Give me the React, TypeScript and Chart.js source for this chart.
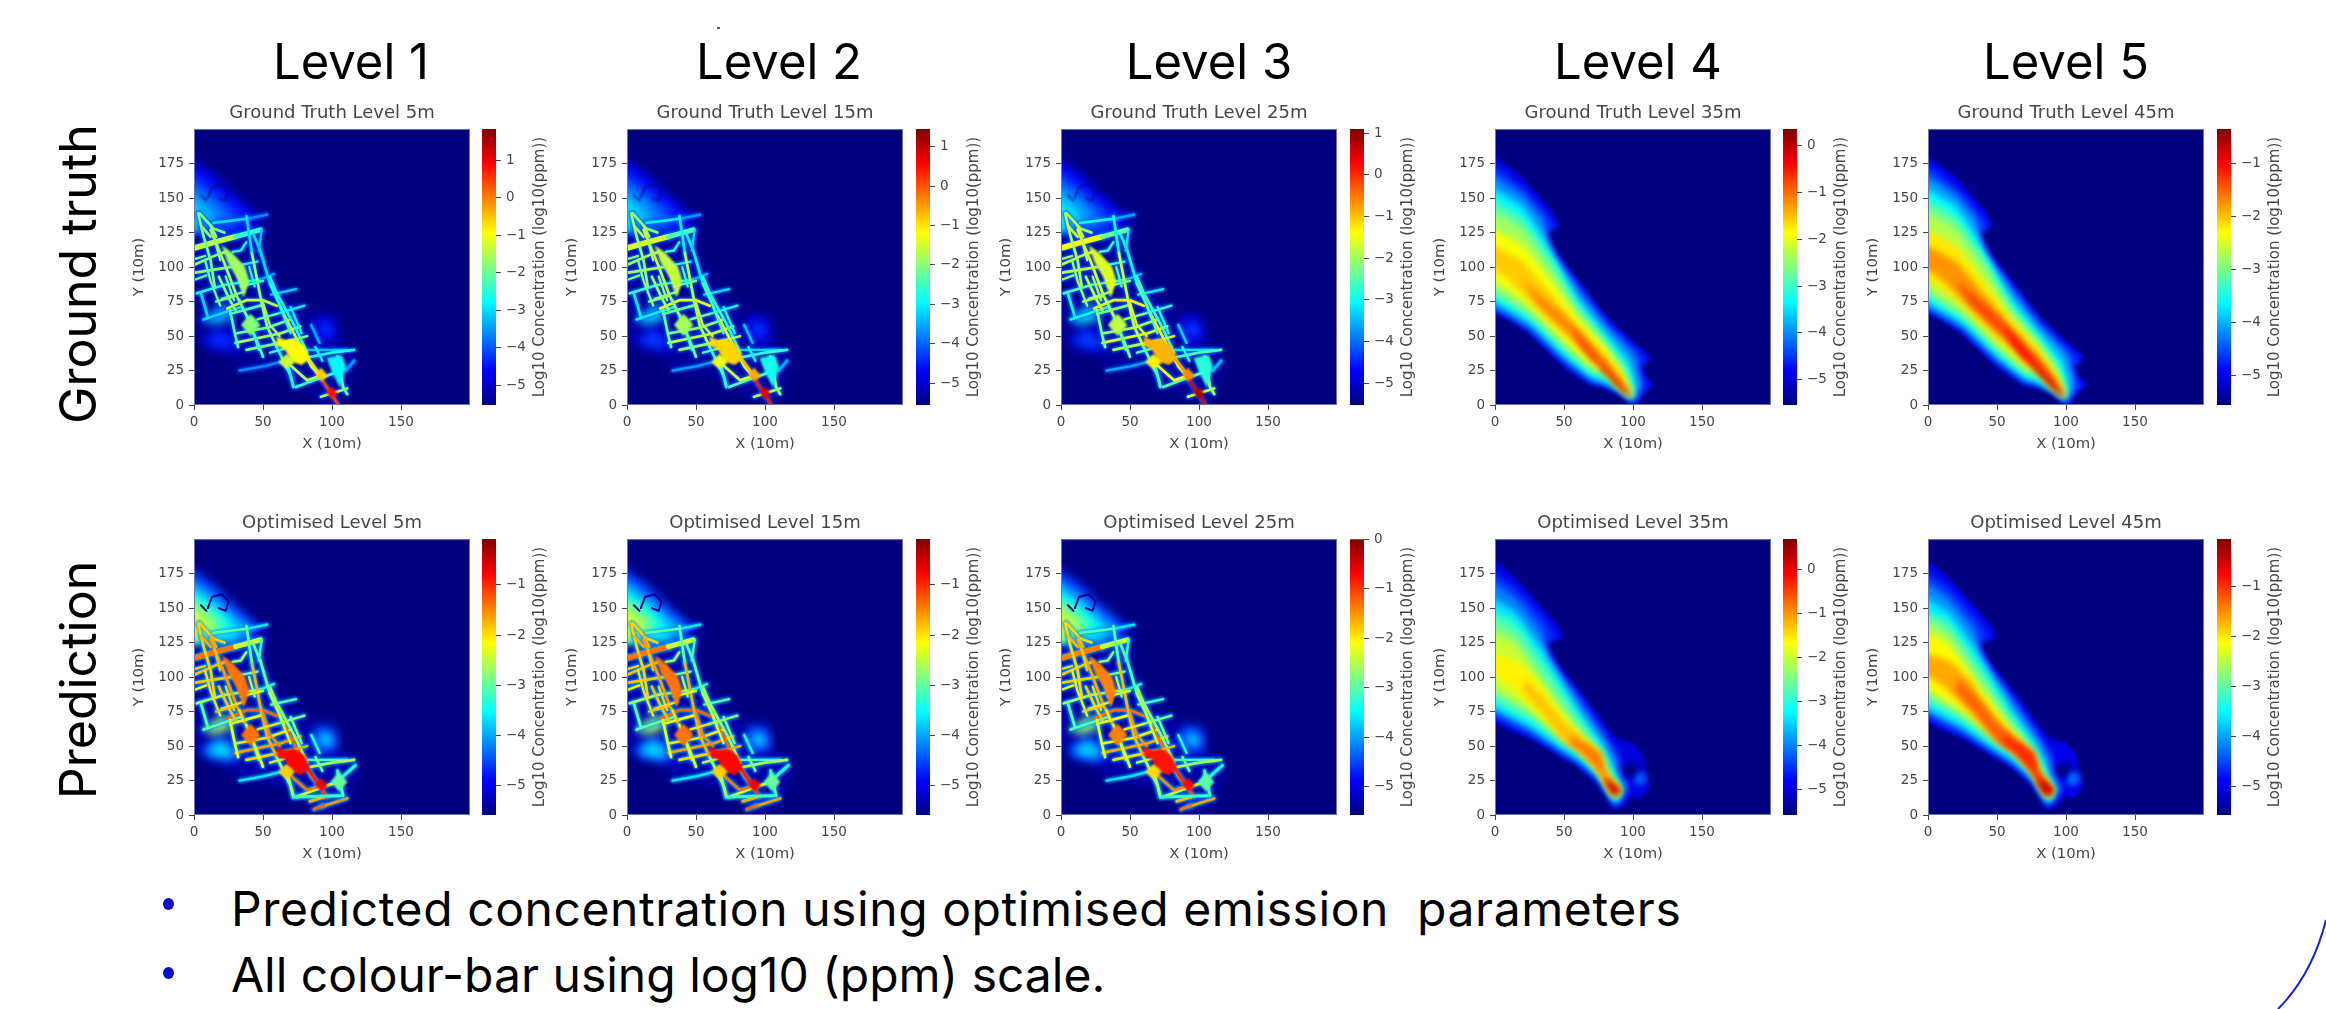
import React, { useEffect, useRef } from "react";
import {
  Chart, ScatterController, BarController, LineElement, PointElement, BarElement,
  LinearScale, CategoryScale, Title, Filler,
} from "chart.js";

/* ---------- text ---------- */
const levelNames = ["Level 1", "Level 2", "Level 3", "Level 4", "Level 5"];
const gtTitles = ["Ground Truth Level 5m", "Ground Truth Level 15m", "Ground Truth Level 25m", "Ground Truth Level 35m", "Ground Truth Level 45m"];
const predTitles = ["Optimised Level 5m", "Optimised Level 15m", "Optimised Level 25m", "Optimised Level 35m", "Optimised Level 45m"];
const rowNames = ["Ground truth", "Prediction"];
const bullets = ["Predicted concentration using optimised emission  parameters", "All colour-bar using log10 (ppm) scale."];
const xAxisLabel = "X (10m)";
const yAxisLabel = "Y (10m)";
const barLabel = "Log10 Concentration (log10(ppm))";
const xTickValues = [0, 50, 100, 150];
const yTickValues = [0, 25, 50, 75, 100, 125, 150, 175];

/* ---------- colour-bar ranges, log10(ppm) ---------- */
const gtRanges = [[-5.53, 1.83], [-5.56, 1.45], [-5.53, 1.1], [-5.55, 0.36], [-5.55, -0.36]];
const predRanges = [[-5.58, -0.09], [-5.58, -0.09], [-5.57, 0.0], [-5.59, 0.68], [-5.57, -0.05]];
const gtBarTicks = [[-5, -4, -3, -2, -1, 0, 1], [-5, -4, -3, -2, -1, 0, 1], [-5, -4, -3, -2, -1, 0, 1], [-5, -4, -3, -2, -1, 0], [-5, -4, -3, -2, -1]];
const predBarTicks = [[-5, -4, -3, -2, -1], [-5, -4, -3, -2, -1], [-5, -4, -3, -2, -1, 0], [-5, -4, -3, -2, -1, 0], [-5, -4, -3, -2, -1]];

/* ---------- upper-level plumes: contours, x,y,x,y… ---------- */
const gtPlumeContours = [
  [0,185, 20,165, 40,143, 47,130, 38,125, 46,110, 60,91, 80,65, 100,46, 113,35, 107,28, 110,20, 115,15, 108,8, 103,1, 98,1, 90,8, 80,13, 70,14, 50,28, 25,52, 10,62, 0,68],
  [0,178, 20,158, 38,138, 43,129, 36,122, 44,106, 60,88, 80,62, 100,42, 110,33, 104,27, 107,19, 111,15, 105,7, 101,2, 99,2, 90,9, 80,14, 70,16, 50,30, 25,54, 10,64, 0,71],
  [0,170, 20,152, 35,134, 40,112, 60,84, 80,58, 100,38, 104,25, 106,14, 100,3, 92,9, 80,15, 70,18, 50,33, 25,56, 0,74],
  [0,160, 20,144, 35,122, 60,78, 80,53, 97,32, 102,15, 100,4, 92,10, 80,17, 70,20, 50,36, 25,60, 0,78],
  [0,152, 20,136, 40,108, 60,73, 80,48, 95,28, 100,12, 100,4, 92,10, 80,19, 70,23, 50,39, 25,63, 0,82],
  [0,143, 20,128, 40,100, 60,68, 80,45, 93,26, 99,10, 99,5, 90,12, 80,22, 70,26, 50,43, 25,67, 0,87],
  [0,130, 20,116, 40,91, 60,63, 80,41, 92,23, 99,8, 90,14, 80,25, 70,29, 50,47, 25,72, 0,94],
  [0,118, 20,104, 40,81, 60,57, 80,36, 92,20, 99,6, 90,16, 80,28, 70,35, 50,52, 30,71, 10,91, 0,102],
  [20,90, 35,78, 50,65, 70,43, 85,26, 95,12, 99,5, 92,13, 82,24, 70,34, 55,50, 42,62, 30,74],
  [55,58, 70,40, 80,29, 90,17, 98,6, 90,14, 80,24, 70,33, 60,46],
  [78,27, 88,18, 94,11, 99,5, 93,9, 85,18, 76,27],
];
const gtL4Levels = [-5, -4.5, -4, -3.4, -2.9, -2.4, -1.9, -1.55, -1.15, -0.75, -0.05];
const gtL5Levels = [-5, -4.6, -4.1, -3.6, -3.1, -2.7, -2.2, -1.75, -1.35, -1.05, -0.55];

const predPlumeContours = [
  [0,190, 15,172, 35,150, 47,136, 49,128, 38,124, 46,110, 60,92, 78,68, 88,56, 100,52, 108,42, 110,28, 112,20, 105,12, 100,14, 95,8, 88,4, 85,6, 75,22, 60,35, 50,41, 25,56, 10,62, 0,70],
  [90,34, 100,38, 106,35, 102,28, 94,27],
  [100,22, 108,22, 110,28, 104,32],
  [0,180, 15,165, 35,143, 44,130, 35,122, 44,106, 60,88, 78,62, 88,48, 92,38, 90,32, 98,18, 92,12, 87,6, 75,24, 60,37, 50,43, 25,58, 10,65, 0,74],
  [0,172, 15,157, 33,135, 40,112, 60,84, 78,58, 87,42, 89,30, 95,20, 90,12, 87,7, 75,26, 60,39, 50,45, 25,61, 0,77],
  [0,160, 15,147, 35,120, 60,78, 78,52, 85,38, 88,28, 93,18, 88,9, 75,28, 60,41, 50,47, 25,64, 0,80],
  [0,150, 15,140, 35,112, 60,73, 78,47, 84,35, 87,27, 92,18, 88,10, 75,30, 60,44, 50,50, 25,68, 0,84],
  [0,145, 15,132, 35,104, 60,67, 78,44, 82,33, 90,18, 87,12, 75,32, 60,47, 50,53, 25,72, 0,90],
  [0,135, 15,124, 35,95, 60,62, 76,42, 80,30, 90,18, 86,13, 75,34, 60,49, 50,57, 25,76, 0,95],
  [0,118, 15,112, 30,98, 45,76, 60,59, 75,44, 79,30, 90,18, 86,14, 74,35, 60,49, 45,60, 25,80, 10,94, 0,104],
  [22,99, 35,85, 50,67, 65,54, 75,46, 80,32, 90,18, 86,15, 74,33, 62,46, 50,53, 35,73, 20,90],
  [55,58, 68,50, 77,44, 80,30, 90,18, 86,15, 74,33, 62,46, 54,52],
  [80,27, 92,17, 86,14, 80,23],
];
const predL4Levels = [-5, -5.6, -4.2, -4.5, -4, -3.4, -2.9, -2.5, -2, -1.6, -1.3, -0.85, 0.25];
const predL5Levels = [-5, -5.6, -4.2, -4.6, -4.1, -3.6, -3.1, -2.6, -2.1, -1.65, -1.25, -0.95, -0.35];

/* ---------- lower-level field: street network and hot spots ---------- */
const glowContours = [
  [0,180, 20,155, 40,138, 55,138, 50,110, 60,90, 80,70, 100,50, 118,38, 118,25, 108,5, 95,2, 80,12, 60,22, 35,25, 20,40, 0,55],
  [0,182, 15,167, 30,152, 48,136, 40,125, 0,125],
  [0,174, 15,159, 28,147, 42,135, 30,125, 0,125],
  [0,167, 12,154, 26,142, 32,130, 0,125],
  [0,160, 10,150, 22,137, 0,125],
  [0,152, 7,143, 14,132, 0,125],
  [3,46, 18,58, 30,52, 32,38, 12,40],
  [8,47, 20,54, 28,47, 27,41, 14,43],
  [88,66, 102,64, 105,48, 96,44, 84,50],
  [90,60, 100,58, 100,50, 92,50],
  [6,62, 22,73, 28,63, 14,58],
];
const gtGlowLevels = [-5.35, -4.8, -4.4, -4, -3.6, -3.1, -5, -4.3, -4.9, -4.3, -3.2];
const predGlowLevels = [-5.35, -4.6, -4, -3.5, -2.9, -2.3, -4.6, -3.7, -4.6, -3.7, -2.7];

const streetPaths = [
  [1,114, 15,118, 30,122],
  [30,122, 48,127],
  [14,132, 38,135],
  [38,135, 53,138],
  [1,102, 17,109, 23,111],
  [1,96, 26,100],
  [26,100, 46,104],
  [1,91, 9,94],
  [2,81, 22,87],
  [22,87, 48,91],
  [48,91, 58,95],
  [7,62, 22,67, 34,71],
  [24,70, 38,76, 50,76, 60,72],
  [26,66, 48,72],
  [31,52, 53,56, 70,62],
  [30,45, 63,52, 77,57],
  [38,40, 72,47],
  [33,25, 50,28, 66,32],
  [82,40, 111,40],
  [75,33, 100,38, 116,40],
  [74,13, 87,18, 104,24],
  [92,6, 111,12],
  [56,80, 74,84],
  [60,66, 80,72],
  [3,139, 7,122, 12,105, 15,86],
  [12,127, 22,103, 31,79, 38,65],
  [38,65, 47,43, 50,35],
  [18,93, 26,76, 30,69],
  [23,93, 29,76],
  [8,105, 12,90, 19,72],
  [5,81, 10,64],
  [38,137, 42,110],
  [42,110, 49,74, 53,57, 60,42],
  [60,42, 70,21, 72,13],
  [43,124, 48,112, 55,88],
  [55,88, 66,64],
  [66,64, 75,47, 85,28, 91,21],
  [49,127, 47,112],
  [55,93, 60,81, 73,57, 82,38],
  [26,69, 30,50, 32,42],
  [41,58, 47,40],
  [50,74, 55,58, 62,50],
  [88,42, 93,32],
  [85,58, 91,45],
  [65,33, 82,18, 91,21],
  [67,33, 72,14],
  [4,139, 14,128, 22,125],
  [5,130, 12,122],
  [12,130, 16,122],
  [28,111, 34,112, 38,118],
  [1,106, 8,108],
  [20,77, 36,82],
  [16,75, 30,79],
  [34,86, 50,90],
  [46,62, 60,66],
  [60,44, 82,50],
  [55,38, 70,42],
  [15,120, 19,105],
  [30,100, 34,88],
  [33,76, 36,68],
  [70,71, 78,52],
  [62,72, 70,52],
  [40,100, 44,86],
];
const streetLevels = [
  -1.4, -2.4, -3.0, -3.6, -1.8, -1.8, -2.8, -2.1, -2.6, -2.8, -3.4, -3.0,
  -1.3, -2.2, -2.0, -1.6, -1.9, -3.6, -3.2, -2.6, -2.4, -1.6, -3.1, -2.8,
  -1.9, -1.6, -2.2, -1.8, -1.9, -2.0, -3.0, -3.0, -1.7, -2.6, -3.0, -2.5, -1.3,
  -3.2, -2.7, -2.2, -2.4, -1.5, -2.8, -3.3, -1.4, -2.6, -1.9, -1.7, -1.7, -2.6,
  -1.9, -2.0, -1.8, -2.2, -2.0, -1.7, -2.4, -1.8, -1.6, -2.0, -2.8, -2.4, -2.6,
];
const streetWidths = [
  5.5, 5, 2.7, 2.3, 2.7, 2.7, 2.3, 2.3, 2.7, 2.7, 2.3, 2.7,
  2.7, 2.7, 2.7, 2.7, 2.7, 2.3, 2.3, 2.7, 2.7, 2.7, 2.3, 2.3,
  2.7, 2.7, 2.7, 2.7, 2.3, 2.3, 2.7, 2.7, 2.7, 2.7, 2.7, 2.7, 2.7,
  2.3, 2.7, 2.7, 2.3, 2.3, 2.3, 2.3, 2.7, 2.7, 2.7, 2.7, 2.7, 2.3,
  2.3, 2.3, 2.3, 2.3, 2.3, 2.3, 2.3, 2.3, 2.3, 2.3, 2.3, 2.3, 2.3,
];

const gtEndPaths = [[77,42, 92,21], [91,21, 104,1], [104,35, 108,13, 111,8], [110,25, 116,32]];
const gtEndLevels = [-0.7, 0.5, -2.1, -3.5];
const predEndPaths = [[77,42, 91,21], [91,21, 96,13], [84,10, 94,13], [87,4, 94,7], [104,32, 108,14], [72,13, 106,14], [108,28, 117,36]];
const predEndLevels = [-0.9, -1.1, -1.7, -1.3, -3.2, -3.2, -3.4];

const gtSpots = [
  [20,116, 28,110, 37,100, 40,90, 36,78, 31,92, 24,104],
  [34,58, 41,66, 48,58, 41,50],
  [60,50, 66,47, 72,48, 80,43, 84,34, 78,29, 70,32, 66,40, 60,43],
  [61,31, 67,37, 73,31, 67,26],
  [96,34, 107,36, 110,28, 106,13, 100,24],
  [88,22, 92,27, 97,21, 92,17],
  [96,9, 100,13, 104,8, 100,4],
];
const gtSpotLevels = [-1.6, -1.8, -0.9, -1.3, -2.8, -0.6, 0.8];
const predSpots = [
  [20,116, 28,110, 37,100, 40,90, 36,78, 31,92, 24,104],
  [34,58, 41,66, 48,58, 41,50],
  [60,50, 66,47, 72,48, 80,43, 84,34, 78,29, 70,32, 66,40, 60,43],
  [61,31, 67,37, 73,31, 67,26],
  [99,24, 105,31, 111,24, 105,17],
  [88,22, 92,27, 97,21, 92,17],
];
const predSpotLevels = [-1.4, -1.4, -0.8, -1.9, -3.0, -0.7];
const darkMarks = [[10,150, 13,158, 20,160, 25,155, 23,148, 18,150], [5,152, 9,148]];
const darkLevel = -5.6;

/* ---------- geometry of the slide ---------- */
const PLOT = 276;
const BAR_W = 14;
const PLOT_X = [193.5, 627, 1061, 1494.5, 1928];
const LEVEL_CENTRE = [351, 779, 1209, 1638, 2066];
const ROW_Y = [129, 539];
const AXIS_LEFT = 70, TITLE_TOP = 40, AXIS_BOTTOM = 55;

function jet(f0: number): string {
  const f = Math.max(0, Math.min(1, f0));
  const c = (x: number) => Math.round(255 * Math.max(0, Math.min(1, x)));
  return `rgb(${c(1.5 - Math.abs(4 * f - 3))},${c(1.5 - Math.abs(4 * f - 2))},${c(1.5 - Math.abs(4 * f - 1))})`;
}
const toPoints = (flat: number[], wall = false) => {
  const out: { x: number; y: number }[] = [];
  for (let i = 0; i < flat.length; i += 2) out.push({ x: wall && flat[i] === 0 ? -6 : flat[i], y: flat[i + 1] });
  return out;
};

/* background + spines + per-dataset softening. Registered before Filler so the blur reaches the fills */
const fieldPlugin = {
  id: "fieldLook",
  beforeDatasetsDraw(chart: any) {
    if (chart.config.type !== "scatter") return;
    const a = chart.chartArea;
    chart.ctx.fillStyle = jet(0);
    chart.ctx.fillRect(a.left, a.top, a.width, a.height);
  },
  beforeDatasetDraw(chart: any, args: any) {
    const b = chart.data.datasets[args.index].blurPx;
    if (b) chart.ctx.filter = `blur(${b}px)`;
  },
  afterDatasetDraw(chart: any) {
    chart.ctx.filter = "none";
  },
  afterDatasetsDraw(chart: any) {
    if (chart.config.type !== "scatter") return;
    const a = chart.chartArea;
    chart.ctx.strokeStyle = "#6f76a6";
    chart.ctx.lineWidth = 1;
    chart.ctx.strokeRect(a.left + 0.5, a.top + 0.5, a.width - 1, a.height - 1);
  },
};
Chart.register(ScatterController, BarController, LineElement, PointElement, BarElement, LinearScale, CategoryScale, Title, fieldPlugin, Filler);

const FONT = "'DejaVu Sans'";
const INK = "#474747";

function area(flat: number[], value: number, range: number[], blurPx: number) {
  return {
    data: toPoints(flat, true), showLine: true, pointRadius: 0, borderWidth: 0, tension: 0.1,
    fill: "shape", backgroundColor: jet((value - range[0]) / (range[1] - range[0])), borderColor: "transparent", blurPx,
  };
}
function street(flat: number[], value: number, range: number[], width: number, blurPx: number) {
  return {
    data: toPoints(flat), showLine: true, pointRadius: 0, borderWidth: width, tension: 0, fill: false,
    borderColor: jet((value - range[0]) / (range[1] - range[0])), borderCapStyle: "round", borderJoinStyle: "round", blurPx,
  };
}

function lowField(row: number, range: number[]) {
  const glow = row === 0 ? gtGlowLevels : predGlowLevels;
  const spots = row === 0 ? gtSpots : predSpots;
  const spotLv = row === 0 ? gtSpotLevels : predSpotLevels;
  const ends = row === 0 ? gtEndPaths : predEndPaths;
  const endLv = row === 0 ? gtEndLevels : predEndLevels;
  const sets: any[] = [];
  glowContours.forEach((c, i) => sets.push(area(c, glow[i], range, 5)));
  darkMarks.forEach((c) => sets.push(street(c, darkLevel, range, row === 0 ? 1.4 : 2, row === 0 ? 0.9 : 0.5)));
  const halo = -4.0;
  streetPaths.forEach((p, i) => sets.push(street(p, Math.min(halo, streetLevels[i]), range, streetWidths[i] + 2, 1.4)));
  ends.forEach((p, i) => sets.push(street(p, Math.min(halo, endLv[i]), range, 5, 1.4)));
  streetPaths.forEach((p, i) => sets.push(street(p, streetLevels[i], range, streetWidths[i], 0.6)));
  ends.forEach((p, i) => sets.push(street(p, endLv[i], range, 3, 0.6)));
  spots.forEach((p, i) => sets.push(area(p, spotLv[i], range, 1.1)));
  return sets;
}
function highField(contours: number[][], levels: number[], range: number[]) {
  return contours.map((c, i) => area(c, levels[i], range, i < 1 ? 1.6 : 3));
}

function fieldSets(row: number, col: number, range: number[]) {
  if (col < 3) return lowField(row, range);
  if (row === 0) return highField(gtPlumeContours, col === 3 ? gtL4Levels : gtL5Levels, range);
  return highField(predPlumeContours, col === 3 ? predL4Levels : predL5Levels, range);
}

function makeField(canvas: HTMLCanvasElement, row: number, col: number, title: string, range: number[]) {
  const sets = fieldSets(row, col, range);
  sets.forEach((s: any, i: number) => (s.order = sets.length - i));
  const axisBase = {
    type: "linear", min: 0, max: 200,
    grid: { drawOnChartArea: false, drawTicks: true, tickLength: 5, color: "#444", lineWidth: 1 },
    border: { display: false },
  };
  const tickFont = { family: FONT, size: 13.5 };
  const labelFont = { family: FONT, size: 14.8 };
  return new Chart(canvas, {
    type: "scatter",
    data: { datasets: sets },
    options: {
      animation: false, responsive: false, maintainAspectRatio: false,
      layout: { autoPadding: false, padding: 0 },
      plugins: {
        legend: { display: false }, tooltip: { enabled: false },
        title: {
          display: true, text: title, fullSize: false, color: INK,
          font: { family: FONT, size: 18, weight: "normal" }, padding: { top: 13.5, bottom: 5 },
        },
      },
      scales: {
        x: {
          ...axisBase,
          afterBuildTicks: (ax: any) => { ax.ticks = xTickValues.map((value) => ({ value })); },
          afterFit: (ax: any) => { ax.height = AXIS_BOTTOM; },
          ticks: { color: INK, font: tickFont, padding: 4, maxRotation: 0, autoSkip: false },
          title: { display: true, text: xAxisLabel, color: INK, font: labelFont, padding: { top: 0, bottom: 7 } },
        },
        y: {
          ...axisBase,
          afterBuildTicks: (ax: any) => { ax.ticks = yTickValues.map((value) => ({ value })); },
          afterFit: (ax: any) => { ax.width = AXIS_LEFT; },
          ticks: { color: INK, font: tickFont, padding: 5, autoSkip: false },
          title: { display: true, text: yAxisLabel, color: INK, font: labelFont, padding: { top: 6.6, bottom: 0 } },
        },
      },
    },
  } as any);
}

function makeBar(canvas: HTMLCanvasElement, range: number[], ticks: number[]) {
  const labelPlugin = {
    id: "barLabel",
    afterDraw(chart: any) {
      const { ctx, chartArea: a } = chart;
      ctx.save();
      ctx.translate(a.right + 44, (a.top + a.bottom) / 2);
      ctx.rotate(-Math.PI / 2);
      ctx.textAlign = "center";
      ctx.textBaseline = "middle";
      ctx.fillStyle = INK;
      ctx.font = `15px ${FONT}`;
      ctx.fillText(barLabel, 0, 0);
      ctx.restore();
    },
  };
  return new Chart(canvas, {
    type: "bar",
    data: {
      labels: ["log10(ppm)"],
      datasets: [{
        data: [range], barPercentage: 1, categoryPercentage: 1, borderWidth: 0,
        backgroundColor: (c: any) => {
          const a = c.chart.chartArea;
          if (!a) return jet(0.5);
          const g = c.chart.ctx.createLinearGradient(0, a.bottom, 0, a.top);
          for (let i = 0; i <= 32; i++) g.addColorStop(i / 32, jet(i / 32));
          return g;
        },
      }],
    },
    options: {
      animation: false, responsive: false, maintainAspectRatio: false,
      layout: { autoPadding: false, padding: { top: 8, bottom: 8, left: 0, right: 0 } },
      plugins: { legend: { display: false }, tooltip: { enabled: false } },
      scales: {
        x: { display: false },
        y: {
          position: "right", min: range[0], max: range[1],
          afterBuildTicks: (ax: any) => { ax.ticks = ticks.map((value) => ({ value })); },
          afterFit: (ax: any) => { ax.width = 70; },
          grid: { drawOnChartArea: false, drawTicks: true, tickLength: 5, color: "#444" },
          border: { display: false },
          ticks: {
            color: INK, padding: 5, autoSkip: false, font: { family: FONT, size: 13.5 },
            callback: (v: number) => String(v).replace("-", "\u2212"),
          },
        },
      },
    },
    plugins: [labelPlugin],
  } as any);
}

function Field(props: { row: number; col: number; title: string; range: number[] }) {
  const ref = useRef<HTMLCanvasElement>(null);
  useEffect(() => {
    const c = makeField(ref.current!, props.row, props.col, props.title, props.range);
    return () => c.destroy();
  }, []);
  const w = AXIS_LEFT + PLOT, h = TITLE_TOP + PLOT + AXIS_BOTTOM;
  return (
    <canvas ref={ref} width={w} height={h} style={{
      position: "absolute", width: w, height: h,
      left: PLOT_X[props.col] - AXIS_LEFT, top: ROW_Y[props.row] - TITLE_TOP, filter: "blur(0.45px)",
    }} />
  );
}
function Bar(props: { row: number; col: number; range: number[]; ticks: number[] }) {
  const ref = useRef<HTMLCanvasElement>(null);
  const w0 = 100, h0 = PLOT + 40;
  useEffect(() => {
    const canvas = ref.current!;
    const c = makeBar(canvas, props.range, props.ticks);
    // size the canvas so the bar's plot area is exactly as tall as the heat map beside it
    c.resize(w0 + BAR_W - c.chartArea.width, h0 + PLOT - c.chartArea.height);
    canvas.style.left = `${PLOT_X[props.col] + 288.5 - c.chartArea.left}px`;
    canvas.style.top = `${ROW_Y[props.row] - c.chartArea.top}px`;
    return () => c.destroy();
  }, []);
  return (
    <canvas ref={ref} width={w0} height={h0} style={{
      position: "absolute", width: w0, height: h0,
      left: PLOT_X[props.col] + 288.5, top: ROW_Y[props.row] - 20, filter: "blur(0.45px)",
    }} />
  );
}

const SLIDE_FONT = "Inter, 'Noto Sans', sans-serif";

export default function App() {
  useEffect(() => { document.body.style.margin = "0"; }, []);
  return (
    <div style={{ position: "absolute", left: 0, top: 0, width: 2326, height: 1009, overflow: "hidden", background: "#fff" }}>
      {levelNames.map((t, i) => (
        <div key={t} style={{
          position: "absolute", left: LEVEL_CENTRE[i] - 100, width: 200, top: 31, height: 62,
          textAlign: "center", font: `400 49px/62px ${SLIDE_FONT}`, color: "#000", whiteSpace: "nowrap",
        }}>{t}</div>
      ))}
      {rowNames.map((t, i) => (
        <div key={t} style={{ position: "absolute", left: 78, top: i === 0 ? 274 : 680, width: 0, height: 0, whiteSpace: "nowrap" }}>
          <div style={{
            position: "absolute", left: -200, top: -31, width: 400, height: 62, textAlign: "center",
            transform: "rotate(-90deg)", font: `400 50px/62px ${SLIDE_FONT}`, color: "#000",
          }}>{t}</div>
        </div>
      ))}
      {gtTitles.map((t, i) => <Field key={t} row={0} col={i} title={t} range={gtRanges[i]} />)}
      {predTitles.map((t, i) => <Field key={t} row={1} col={i} title={t} range={predRanges[i]} />)}
      {gtRanges.map((r, i) => <Bar key={"g" + i} row={0} col={i} range={r} ticks={gtBarTicks[i]} />)}
      {predRanges.map((r, i) => <Bar key={"p" + i} row={1} col={i} range={r} ticks={predBarTicks[i]} />)}
      {bullets.map((t, i) => (
        <React.Fragment key={t}>
          <div style={{
            position: "absolute", left: 163, top: (i === 0 ? 904 : 973) - 6, width: 11, height: 12,
            borderRadius: "50%", background: "#0a0ad2",
          }} />
          <div style={{
            position: "absolute", left: 231, top: (i === 0 ? 878 : 944), height: 62,
            font: `400 48px/62px ${SLIDE_FONT}`, color: "#000", whiteSpace: "pre", letterSpacing: i === 0 ? 0.57 : 0,
          }}>{t}</div>
        </React.Fragment>
      ))}
      <svg width={2326} height={1009} style={{ position: "absolute", left: 0, top: 0, pointerEvents: "none" }}>
        <path d="M 2326 920 Q 2312 975 2278 1009" fill="none" stroke="#1a22d0" strokeWidth={2} />
        <rect x={717} y={27} width={3} height={2} fill="#555" />
      </svg>
    </div>
  );
}
